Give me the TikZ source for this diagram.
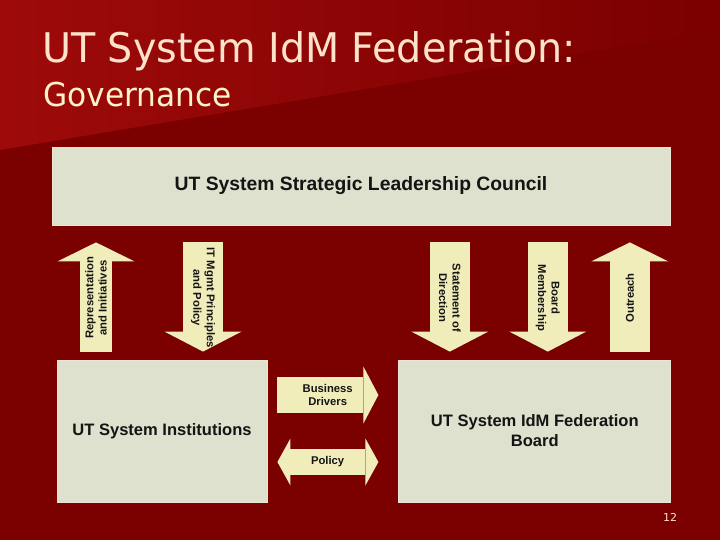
\documentclass[tikz,border=0pt]{standalone}
\usepackage{fontspec}
\setmainfont{Liberation Sans}
\newfontfamily\titlefont{DejaVu Sans}
\usepackage{graphicx}
\usepackage{tikz}
\usetikzlibrary{arrows.meta}
\usetikzlibrary{positioning}
\usepackage{xcolor}
\definecolor{mybg}{HTML}{7B0000}
\definecolor{mybglight}{HTML}{9E0A0A}
\definecolor{myblock}{HTML}{DDE1CD}
\definecolor{myedge}{HTML}{EEE4D4}
\definecolor{myarrow}{HTML}{F1EDBB}
\definecolor{myblack}{HTML}{141414}
\definecolor{mytitle}{HTML}{FFE2CA}
\definecolor{mysubtitle}{HTML}{FFF3CF}
\tikzset{every node/.style={align=center}}
\tikzstyle{block} = [draw=myedge, fill=myblock, inner sep=0pt, text=myblack, line width=0.8bp]
\tikzstyle{lbl} = [text=myblack, inner sep=0pt, font={\bfseries\fontsize{11.3}{13.5}\selectfont}]
\tikzstyle{upln} = [draw=myarrow, line width=40bp, shorten <=8bp, shorten >=17bp, -{Triangle[width=77bp, length=19bp, line width=0pt]}]
\tikzstyle{downln} = [draw=myarrow, line width=40bp, shorten <=17bp, shorten >=8bp, -{Triangle[width=77bp, length=20bp, line width=0pt]}]

\begin{document}
\begin{tikzpicture}[x=1bp, y=-1bp]
    \useasboundingbox (0,0) rectangle (720,540);

    % Background
    \fill[mybg] (0,0) rectangle (720,540);
    \shade[left color=mybglight, right color=mybg] (0,0) -- (720,0) -- (720,30) -- (0,150) -- cycle;

    % Title
    \node[anchor=base west, inner sep=0pt, text=mytitle, font=\titlefont\fontsize{41}{41}\selectfont] (title) at (42,63) {\scalebox{0.97}[1]{UT System IdM Federation:}};
    \node[anchor=base west, inner sep=0pt, text=mysubtitle, font=\titlefont\fontsize{33}{33}\selectfont] (subtitle) at (43,107) {\scalebox{0.95}[1]{Governance}};

    % Nodes
    \node[block, minimum width=618bp, minimum height=78bp, font=\bfseries\fontsize{19.4}{22}\selectfont] (council) at (361,186) {UT System Strategic Leadership Council};
    \node[block, minimum width=210bp, minimum height=142bp, font=\bfseries\fontsize{16.6}{20}\selectfont] (inst) at (162,431) {UT System Institutions};
    \node[block, minimum width=272bp, minimum height=142bp, font=\bfseries\fontsize{16.6}{20}\selectfont, right=131bp of inst] (board) {UT System IdM Federation\\Board};

    % Paths
    \draw[upln, line width=32bp] ([xshift=-66bp]inst.north) -- node[lbl, rotate=90, pos=0.46] {Representation\\and Initiatives} ([xshift=-66bp]inst.north |- council.south);
    \draw[downln] ([xshift=41bp]inst.north |- council.south) -- node[lbl, rotate=-90, pos=0.54] {IT Mgmt Principles\\and Policy} ([xshift=41bp]inst.north);
    \draw[downln] ([xshift=-85bp]board.north |- council.south) -- node[lbl, rotate=-90, pos=0.54] {Statement of\\Direction} ([xshift=-85bp]board.north);
    \draw[downln] ([xshift=13bp]board.north |- council.south) -- node[lbl, rotate=-90, pos=0.54] {Board\\Membership} ([xshift=13bp]board.north);
    \draw[upln] ([xshift=95bp]board.north) -- node[lbl, rotate=90, pos=0.46] {Outreach} ([xshift=95bp]board.north |- council.south);

    \draw[draw=myarrow, line width=36bp, shorten <=10bp, shorten >=20bp, -{Triangle[width=57bp, length=15bp, line width=0pt]}] ([yshift=36bp]inst.east) -- node[lbl, pos=0.46] {Business\\Drivers} ([yshift=36bp]board.west);
    \draw[draw=myarrow, line width=26bp, shorten <=10bp, shorten >=20bp, {Triangle[width=47bp, length=13bp, line width=0pt]}-{Triangle[width=47bp, length=13bp, line width=0pt]}] ([yshift=-31bp]inst.east) -- node[lbl, pos=0.46] {Policy} ([yshift=-31bp]board.west);

    % Page number
    \node[text=mytitle, font=\titlefont\fontsize{11}{11}\selectfont] (pagenum) at (670,517) {12};
\end{tikzpicture}
\end{document}
